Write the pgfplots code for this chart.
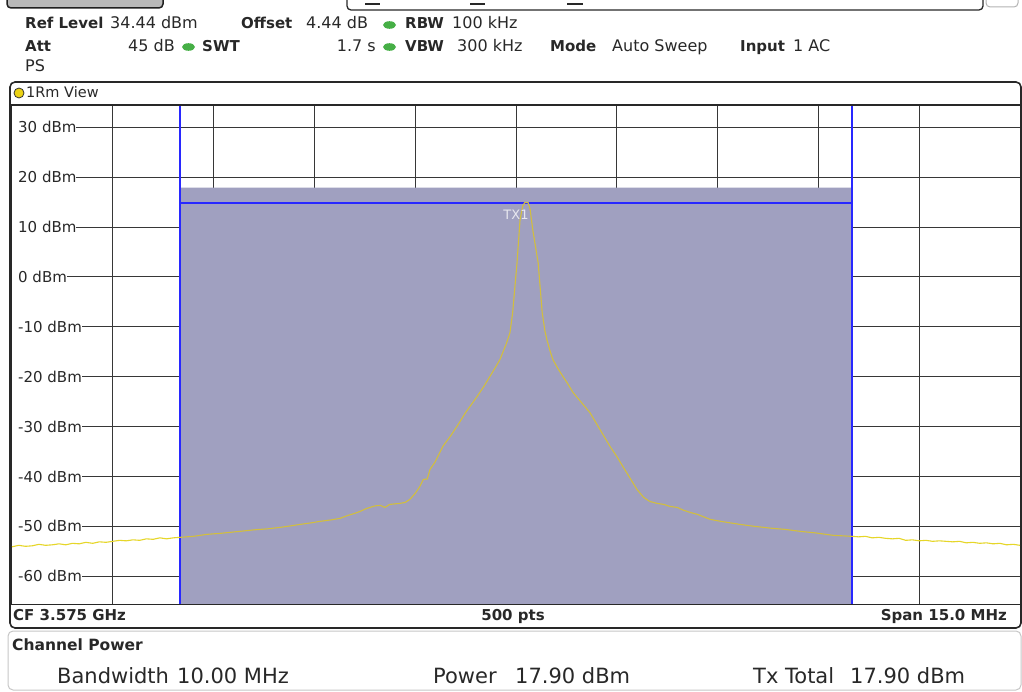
\documentclass[border=0pt]{standalone}
\usepackage{fontspec}
\setmainfont{DejaVu Sans}
\usepackage{pgfplots}
\usepackage{pgfplotstable}
\pgfplotsset{compat=1.18}

\definecolor{chshade}{RGB}{160,160,192}
\definecolor{mkblue}{RGB}{40,40,255}
\definecolor{trbright}{RGB}{230,214,40}
\definecolor{trdim}{RGB}{210,190,62}
\definecolor{gridc}{RGB}{55,55,55}
\definecolor{txtc}{RGB}{40,40,40}
\definecolor{ledgreen}{RGB}{70,175,70}
\definecolor{ledyellow}{RGB}{235,210,20}

\newcommand\hb{\fontsize{15}{17}\selectfont\bfseries}
\newcommand\hr{\fontsize{16}{18}\selectfont}
\newcommand\yl{\fontsize{15}{17}\selectfont}
\newcommand\pr{\fontsize{21}{24}\selectfont}

% spectrum trace: frequency offset from CF (MHz), level (dBm)
\pgfplotstableread{
f p
-7.50 -54.1
-7.40 -53.8
-7.30 -54.0
-7.20 -53.9
-7.10 -53.6
-7.00 -53.8
-6.90 -53.7
-6.80 -53.5
-6.70 -53.7
-6.60 -53.4
-6.50 -53.5
-6.40 -53.2
-6.30 -53.4
-6.20 -53.1
-6.10 -53.2
-6.00 -53.0
-5.90 -52.8
-5.80 -52.9
-5.70 -52.7
-5.60 -52.8
-5.50 -52.5
-5.40 -52.6
-5.30 -52.3
-5.20 -52.5
-5.10 -52.3
-5.00 -52.2
-4.80 -52.0
-4.60 -51.6
-4.40 -51.4
-4.11 -51.0
-3.90 -50.7
-3.70 -50.5
-3.51 -50.2
-3.35 -49.9
-3.21 -49.6
-3.05 -49.3
-2.92 -49.0
-2.75 -48.7
-2.62 -48.4
-2.50 -47.8
-2.40 -47.4
-2.32 -47.0
-2.22 -46.4
-2.17 -46.2
-2.10 -45.9
-2.02 -45.8
-1.95 -46.2
-1.88 -45.6
-1.73 -45.4
-1.65 -45.2
-1.58 -44.6
-1.50 -43.4
-1.43 -42.0
-1.38 -40.6
-1.32 -40.5
-1.28 -38.6
-1.20 -37.0
-1.09 -34.0
-0.98 -32.0
-0.88 -30.0
-0.75 -27.2
-0.58 -24.0
-0.48 -22.0
-0.39 -20.0
-0.30 -18.0
-0.24 -16.6
-0.15 -13.6
-0.09 -11.2
-0.05 -7.2
0.015 2.8
0.06 11.4
0.10 14.2
0.13 14.9
0.18 14.9
0.21 13.5
0.25 9.4
0.33 2.8
0.39 -7.2
0.43 -10.8
0.46 -12.6
0.51 -15.0
0.55 -16.6
0.62 -18.3
0.70 -20.0
0.76 -21.2
0.85 -23.2
0.95 -24.8
1.10 -27.2
1.25 -30.6
1.40 -34.0
1.50 -36.0
1.59 -38.0
1.70 -40.4
1.80 -42.6
1.90 -44.2
1.99 -45.0
2.10 -45.4
2.20 -45.6
2.29 -46.0
2.40 -46.2
2.48 -46.7
2.59 -47.2
2.70 -47.6
2.89 -48.6
3.05 -49.0
3.33 -49.6
3.55 -50.0
3.82 -50.4
4.00 -50.6
4.23 -51.0
4.45 -51.3
4.72 -51.8
5.00 -52.0
5.10 -52.1
5.20 -52.0
5.30 -52.3
5.40 -52.2
5.50 -52.4
5.60 -52.5
5.70 -52.4
5.80 -52.8
5.90 -52.7
6.00 -52.9
6.10 -52.8
6.20 -53.0
6.30 -52.9
6.40 -53.0
6.50 -53.1
6.60 -53.0
6.70 -53.3
6.80 -53.2
6.90 -53.4
7.00 -53.3
7.10 -53.5
7.20 -53.4
7.30 -53.7
7.40 -53.6
7.50 -53.8
}\trace

\begin{document}
\begin{tikzpicture}[x=1pt,y=-1pt]
\path[use as bounding box] (0,0) rectangle (1022,692);

% window tabs along the top edge
\draw[line width=1.5pt, fill=gray!55, draw=gray!25!black, rounded corners=4pt] (7,-12) rectangle (163,8);
\draw[line width=1.3pt, draw=txtc, rounded corners=4pt] (347,-12) rectangle (983,10);
\draw[line width=1pt, draw=gray!60, rounded corners=4pt] (986,-12) rectangle (1018,7);
\draw[line width=2pt, txtc] (365,4)--(380,4) (470,4)--(485,4) (567,4)--(583,4);

% instrument settings
\begin{scope}[every node/.style={anchor=base west, inner sep=0pt, text=txtc}]
\node[font=\hb] at (25,29) {Ref Level};
\node[font=\hr] at (110,29) {34.44 dBm};
\node[font=\hb] at (241,29) {Offset};
\node[font=\hr] at (306,29) {4.44 dB};
\node[font=\hb] at (405,29) {RBW};
\node[font=\hr] at (452,29) {100 kHz};
\node[font=\hb] at (25,52) {Att};
\node[font=\hr, anchor=base east] at (175,52) {45 dB};
\node[font=\hb] at (202,52) {SWT};
\node[font=\hr, anchor=base east] at (376,52) {1.7 s};
\node[font=\hb] at (405,52) {VBW};
\node[font=\hr] at (457,52) {300 kHz};
\node[font=\hb] at (550,52) {Mode};
\node[font=\hr] at (612,52) {Auto Sweep};
\node[font=\hb] at (740,52) {Input};
\node[font=\hr] at (793,52) {1 AC};
\node[font=\hr] at (25,72) {PS};
\end{scope}
\fill[ledgreen] (389.5,25) ellipse (6.5 and 3.8);
\fill[ledgreen] (188.5,47) ellipse (6.5 and 3.8);
\fill[ledgreen] (389.5,47) ellipse (6.5 and 3.8);

% view window frame
\draw[rounded corners=5pt, line width=1.6pt, draw=txtc, fill=white] (10,82) rectangle (1021,628);
\draw[line width=1pt, draw=txtc] (10,104.5) -- (1021,104.5);
\filldraw[fill=ledyellow, draw=gray!40!black, line width=0.8pt] (19,93) circle (5);
\node[anchor=base west, inner sep=0pt, font=\fontsize{14.5}{16}\selectfont, text=txtc] at (26,98) {1Rm View};

\begin{axis}[
  at={(12pt,-604pt)}, anchor=south west,
  width=1008pt, height=499pt, scale only axis,
  xmin=-7.5, xmax=7.5, ymin=-65.56, ymax=34.44,
  xtick={-6,-4.5,-3,-1.5,0,1.5,3,4.5,6},
  ytick={-60,-50,-40,-30,-20,-10,0,10,20,30},
  xticklabels={}, yticklabels={},
  major tick length=0pt,
  xmajorgrids, ymajorgrids,
  major grid style={draw=gridc, line width=0.9pt},
  axis line style={draw=txtc, line width=1pt},
  clip=true,
]
% channel power area
\addplot[fill=chshade, draw=none] coordinates {(-5,-65.56) (-5,17.9) (5,17.9) (5,-65.56) (-5,-65.56)};
% channel limits and peak level
\addplot[draw=mkblue, line width=1.5pt] coordinates {(-5,-65.56) (-5,34.44)};
\addplot[draw=mkblue, line width=1.5pt] coordinates {(5,-65.56) (5,34.44)};
\addplot[draw=mkblue, line width=1.6pt] coordinates {(-5,14.8) (5,14.8)};
% trace
\addplot[draw=trbright, line width=1.1pt, restrict x to domain=-7.5:-5] table[x=f, y=p] {\trace};
\addplot[draw=trbright, line width=1.1pt, restrict x to domain=5:7.5] table[x=f, y=p] {\trace};
\addplot[draw=trdim, line width=1.1pt, restrict x to domain=-5:5] table[x=f, y=p] {\trace};

\node[text=white!75!chshade, font=\fontsize{13}{14}\selectfont, inner sep=0pt] at (axis cs:0,12.44) {TX1};

% level labels
\begin{scope}[every node/.style={anchor=west, fill=white, inner sep=0pt, font=\yl, text=txtc}]
\node at (axis cs:-7.5,30) {\hspace{6pt}30 dBm\hspace{1.5pt}};
\node at (axis cs:-7.5,20) {\hspace{6pt}20 dBm\hspace{1.5pt}};
\node at (axis cs:-7.5,10) {\hspace{6pt}10 dBm\hspace{1.5pt}};
\node at (axis cs:-7.5,0) {\hspace{6pt}0 dBm\hspace{1.5pt}};
\node at (axis cs:-7.5,-10) {\hspace{6pt}-10 dBm\hspace{1.5pt}};
\node at (axis cs:-7.5,-20) {\hspace{6pt}-20 dBm\hspace{1.5pt}};
\node at (axis cs:-7.5,-30) {\hspace{6pt}-30 dBm\hspace{1.5pt}};
\node at (axis cs:-7.5,-40) {\hspace{6pt}-40 dBm\hspace{1.5pt}};
\node at (axis cs:-7.5,-50) {\hspace{6pt}-50 dBm\hspace{1.5pt}};
\node at (axis cs:-7.5,-60) {\hspace{6pt}-60 dBm\hspace{1.5pt}};
\end{scope}
\draw[draw=txtc, line width=1pt] (rel axis cs:0,0) rectangle (rel axis cs:1,1);
\end{axis}

% sweep footer
\node[anchor=base west, inner sep=0pt, font=\hb, text=txtc] at (13,620) {CF 3.575 GHz};
\node[anchor=base, inner sep=0pt, font=\hb, text=txtc] at (513,620) {500 pts};
\node[anchor=base east, inner sep=0pt, font=\hb, text=txtc] at (1007,620) {Span 15.0 MHz};

% channel power result panel
\draw[rounded corners=5pt, line width=1pt, draw=gray!45] (8,631) rectangle (1021,690);
\begin{scope}[every node/.style={anchor=base west, inner sep=0pt, text=txtc}]
\node[font=\fontsize{15.5}{17}\selectfont\bfseries] at (12,650) {Channel Power};
\node[font=\pr] at (57,683) {Bandwidth};
\node[font=\pr] at (177,683) {10.00 MHz};
\node[font=\pr] at (433,683) {Power};
\node[font=\pr] at (515,683) {17.90 dBm};
\node[font=\pr] at (753,683) {Tx Total};
\node[font=\pr] at (850,683) {17.90 dBm};
\end{scope}
\end{tikzpicture}
\end{document}
